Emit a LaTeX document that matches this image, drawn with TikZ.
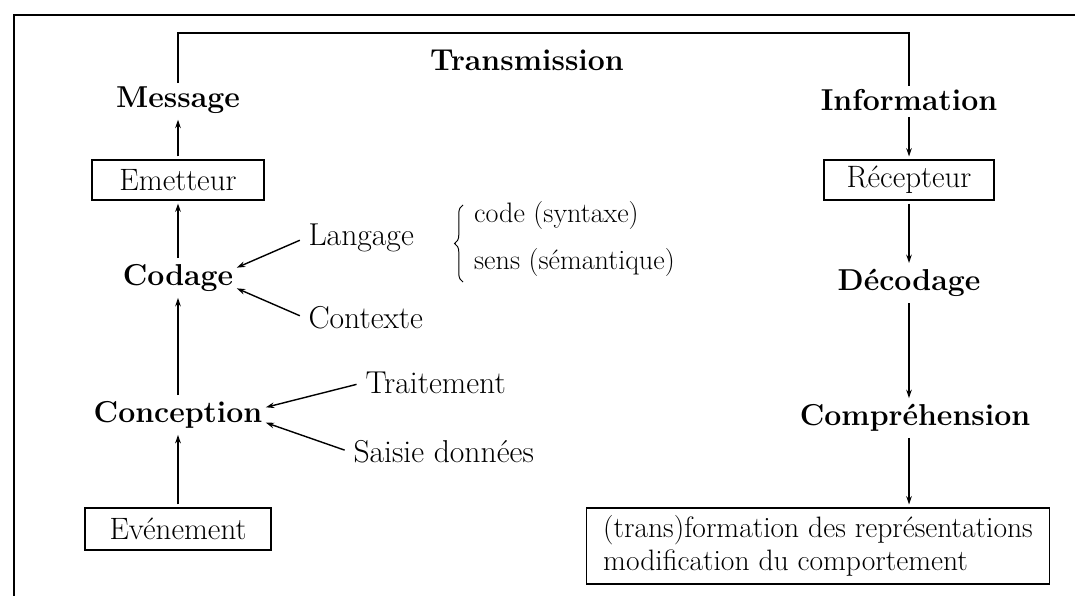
\documentclass[tikz,border=0pt]{standalone}
\usetikzlibrary{arrows.meta, positioning, decorations.pathreplacing}
\tikzstyle{boxed} = [rectangle, draw=black, line width=1pt, minimum height=1cm, inner sep=2pt, font=\fontsize{22}{26}\selectfont]
\tikzstyle{stage} = [inner sep=2pt, font=\fontsize{21.5}{25}\selectfont\bfseries]
\tikzstyle{factor} = [anchor=west, inner sep=2pt, font=\fontsize{22.5}{26}\selectfont]
\tikzstyle{note} = [anchor=west, inner sep=1pt, font=\fontsize{20}{24}\selectfont]
\tikzstyle{arrow} = [line width=1pt, -{Stealth[length=6pt,width=4pt]}, shorten >=2pt, shorten <=2pt]
\tikzstyle{branch} = [line width=1pt, -{Stealth[length=6pt,width=4pt]}, shorten <=4pt]

\begin{document}
\begin{tikzpicture}[x=0.025cm, y=-0.025cm, line width=1pt]
        \useasboundingbox (0,0) rectangle (1075,596);
        % Frame
        \draw[line width=1.4pt] (14,596) -- (14,15) -- (1075,15);

        % Nodes
        \node (trans) [stage] at (527,60) {Transmission};
        \node (msg) [stage] at (178,100) {Message};
        \node (info) [stage] at (909,100) {Information};
        \node (emet) [boxed, minimum width=4.3cm] at (178,180) {Emetteur};
        \node (recep) [boxed, minimum width=4.25cm] at (909,180) {Récepteur};
        \node (cod) [stage] at (178,278) {Codage};
        \node (deco) [stage] at (909,283) {Décodage};
        \node (conc) [stage] at (178,415) {Conception};
        \node (compr) [stage] at (915,418) {Compréhension};
        \node (even) [boxed, minimum width=4.65cm, minimum height=1.05cm] at (178,529) {Evénement};
        \node (result) [boxed, minimum width=11.575cm, minimum height=1.9cm, align=left, font=\fontsize{21}{23.5}\selectfont] at (818,546)
            {(trans)formation des représentations\\modification du comportement};

        % Factors
        \node (lang) [factor] at (305,238) {Langage};
        \node (ctx) [factor] at (305,318) {Contexte};
        \node (trait) [factor] at (362,383) {Traitement};
        \node (saisie) [factor] at (350,452) {Saisie données};
        \node (code) [note] at (472,215) {code (syntaxe)};
        \node (sens) [note] at (472,262) {sens (sémantique)};
        \coordinate (brtop) at (463,205);
        \coordinate (brbot) at (463,282);
        \draw[line width=0.7pt, decorate, decoration={brace, amplitude=6pt}] (brbot) -- (brtop);

        % Transmission line
        \coordinate (tl) at (178,33);
        \coordinate (tr) at (909,33);
        \draw (msg.north) -- (tl) -- (tr) -- (info.north);

        % Arrows
        \draw [arrow] (emet) -- (msg);
        \draw [arrow] (cod) -- (emet);
        \draw [arrow] (conc) -- (cod);
        \draw [arrow] (even) -- (conc);
        \draw [arrow] (info) -- (recep);
        \draw [arrow] (recep) -- (deco);
        \draw [arrow] (deco) -- (deco |- compr.north);
        \draw [arrow] (compr.south -| deco) -- (deco |- result.north);
        \draw [branch] (lang.west) -- (cod.10);
        \draw [branch] (ctx.west) -- (cod.-10);
        \draw [branch] (trait.west) -- (conc.5);
        \draw [branch] (saisie.west) -- (conc.-5);
    \end{tikzpicture}
\end{document}
